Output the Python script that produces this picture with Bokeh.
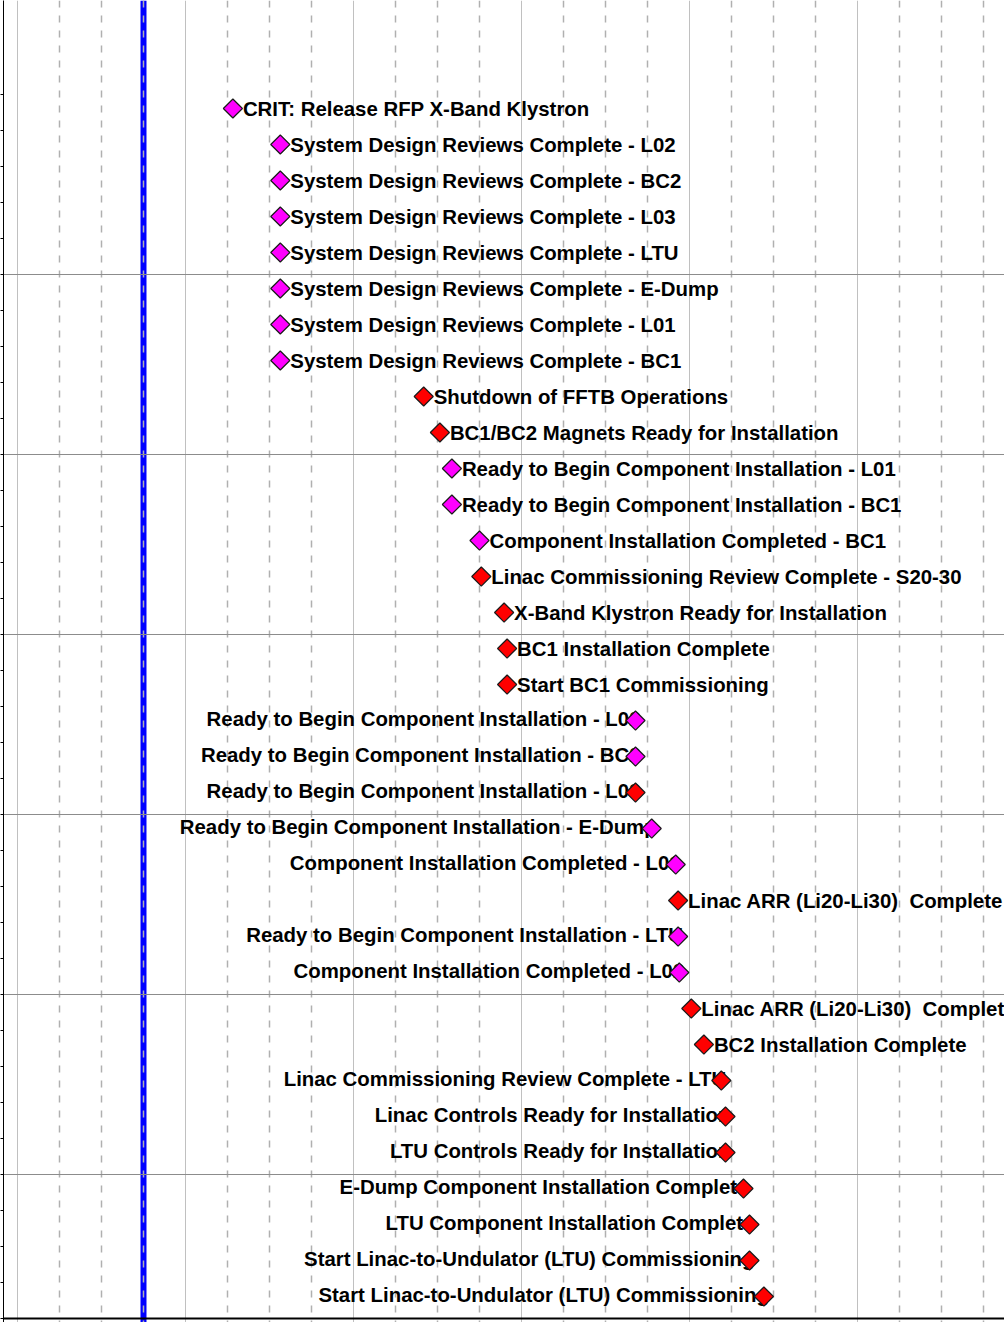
import numpy as np
from bokeh.plotting import figure
from bokeh.models import Range1d, FixedTicker, Grid, Span, ColumnDataSource
from bokeh.core.properties import value
from bokeh.embed import file_html
from bokeh.resources import INLINE

# ---- data (x in days from timeline origin) ----
labels = [
    "CRIT: Release RFP X-Band Klystron",
    "System Design Reviews Complete - L02",
    "System Design Reviews Complete - BC2",
    "System Design Reviews Complete - L03",
    "System Design Reviews Complete - LTU",
    "System Design Reviews Complete - E-Dump",
    "System Design Reviews Complete - L01",
    "System Design Reviews Complete - BC1",
    "Shutdown of FFTB Operations",
    "BC1/BC2 Magnets Ready for Installation",
    "Ready to Begin Component Installation - L01",
    "Ready to Begin Component Installation - BC1",
    "Component Installation Completed - BC1",
    "Linac Commissioning Review Complete - S20-30",
    "X-Band Klystron Ready for Installation",
    "BC1 Installation Complete",
    "Start BC1 Commissioning",
    "Ready to Begin Component Installation - L02",
    "Ready to Begin Component Installation - BC2",
    "Ready to Begin Component Installation - L03",
    "Ready to Begin Component Installation - E-Dump",
    "Component Installation Completed - L01",
    "Linac ARR (Li20-Li30)\u00a0 Complete",
    "Ready to Begin Component Installation - LTU",
    "Component Installation Completed - L02",
    "Linac ARR (Li20-Li30)\u00a0 Complete",
    "BC2 Installation Complete",
    "Linac Commissioning Review Complete - LTU",
    "Linac Controls Ready for Installation",
    "LTU Controls Ready for Installation",
    "E-Dump Component Installation Complete",
    "LTU Component Installation Complete",
    "Start Linac-to-Undulator (LTU) Commissioning",
    "Start Linac-to-Undulator (LTU) Commissioning",
]
milestone_day = [
    35.9, 43.8, 43.8, 43.8, 43.8, 43.8, 43.8, 43.8,
    67.7, 70.4, 72.4, 72.4, 77.0, 77.3, 81.1, 81.6, 81.6,
    103.0, 103.0, 103.0, 105.7, 109.7, 110.1, 110.1, 110.3,
    112.3, 114.4, 117.3, 118.0, 118.0, 121.0, 122.0, 122.0, 124.4,
]
milestone_kind = [
    "m", "m", "m", "m", "m", "m", "m", "m",
    "c", "c", "m", "m", "m", "c", "c", "c", "c",
    "m", "m", "c", "m", "m", "c", "m", "m",
    "c", "c", "c", "c", "c", "c", "c", "c", "c",
]
label_side = [
    "R", "R", "R", "R", "R", "R", "R", "R",
    "R", "R", "R", "R", "R", "R", "R", "R", "R",
    "L", "L", "L", "L", "L", "R", "L", "L",
    "R", "R", "L", "L", "L", "L", "L", "L", "L",
]
status_day = 21          # current-date line
week_days = 7
month_weeks = 4
timeline_end_day = 161

# ---- figure ----
row = list(range(len(labels)))
kind_color = {"m": "#ff00ff", "c": "#ff0000"}

p = figure(width=1004, height=1322, output_backend="svg", toolbar_location=None,
           x_range=Range1d(-2.333, 164.5), y_range=Range1d(33.722, -3.0),
           min_border_left=3, min_border_right=0, min_border_top=0, min_border_bottom=0)
p.outline_line_color = None
p.background_fill_color = "white"
p.xaxis.visible = False
p.xgrid.visible = False
p.ygrid.visible = False

# row boundary ticks on left axis
boundaries = [b - 14 / 36 for b in range(0, 35)]
p.yaxis.ticker = FixedTicker(ticks=boundaries)
p.yaxis.major_label_overrides = {t: "" for t in boundaries}
p.yaxis.major_tick_out = 3
p.yaxis.major_tick_in = 0
p.yaxis.minor_tick_line_color = None
p.yaxis.major_label_standoff = 0
p.yaxis.axis_line_color = "black"
p.yaxis.major_tick_line_color = "black"

# status (current date) line
p.add_layout(Span(location=status_day, dimension="height", line_color="#0000ff",
                  line_width=6, level="underlay"))

weeks = list(range(0, timeline_end_day + 1, week_days))
month_lines = [d for d in weeks if d % (week_days * month_weeks) == 0]
week_lines = [d for d in weeks if d % (week_days * month_weeks) != 0]

p.add_layout(Grid(dimension=0, ticker=FixedTicker(ticks=month_lines),
                  grid_line_color="#c0c0c0", grid_line_width=1))
p.add_layout(Grid(dimension=0, ticker=FixedTicker(ticks=week_lines),
                  grid_line_color="#b0b0b0", grid_line_width=1.5, grid_line_dash="7 8"))
group_lines = [boundaries[b] for b in range(5, 35, 5)]
p.add_layout(Grid(dimension=1, ticker=FixedTicker(ticks=group_lines),
                  grid_line_color="#8c8c8c", grid_line_width=1))
p.add_layout(Span(location=boundaries[34], dimension="width", line_color="black", line_width=2))

src = ColumnDataSource(dict(
    x=milestone_day, y=row, text=labels,
    color=[kind_color[k] for k in milestone_kind],
))
right_idx = [i for i, s in enumerate(label_side) if s == "R"]
left_idx = [i for i, s in enumerate(label_side) if s == "L"]
src_r = ColumnDataSource({k: [v[i] for i in right_idx] for k, v in src.data.items()})
src_l = ColumnDataSource({k: [v[i] for i in left_idx] for k, v in src.data.items()})

common = dict(text_font=value("Liberation Sans"), text_font_style="bold",
              text_font_size="20.4px", text_color="black", text_baseline="alphabetic")
p.text(x="x", y="y", text="text", source=src_r, text_align="left",
       x_offset=10, y_offset=0, **common)
p.text(x="x", y="y", text="text", source=src_l, text_align="right",
       x_offset=5, y_offset=-1.5, **common)

p.scatter(x="x", y="y", source=src, marker="square", size=13.5, angle=np.pi / 4,
          fill_color="color", line_color="#1a1a1a", line_width=1.2)

open("out.html", "w").write(file_html(p, INLINE))
